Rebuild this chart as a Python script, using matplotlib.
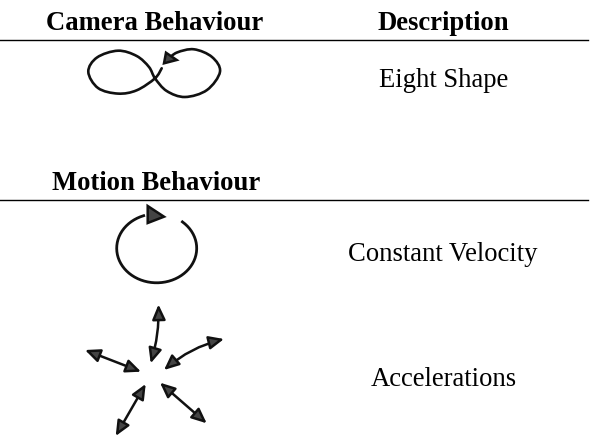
import numpy as np
import matplotlib
matplotlib.use("Agg")
import matplotlib.pyplot as plt
from matplotlib.patches import FancyArrowPatch, Polygon
from matplotlib.path import Path

HEADERS = ["Camera Behaviour", "Description", "Motion Behaviour"]
DESCRIPTIONS = ["Eight Shape", "Constant Velocity", "Accelerations"]

# hand drawn icons, traced in pixels of the reference
EIGHT = [
    (161.7, 68.3), (155, 78.3), (136.7, 90.3), (118, 93.6), (98, 88), (88.3, 71.7),
    (97, 57.5), (118, 50.7), (136.7, 56), (149, 67), (155, 78.3), (166.7, 91),
    (185, 97), (207, 90), (220, 71.7), (212, 57), (194, 49.3), (177, 52.5),
    (168.3, 59),
]
EIGHT_HEAD = [(164, 63.3), (166, 52.7), (176.7, 60)]
CIRCLE_CENTER = (156.7, 248.3)
CIRCLE_RADII = (40, 34.5)
CIRCLE_ANGLES = (-50, 251)
CIRCLE_HEAD = [(147.7, 206), (147.7, 223), (164, 216.7)]
ACCEL_ARROWS = [
    ((150.7, 363.3), (158.5, 304.5), 0.08),
    ((164, 370), (224, 339), -0.12),
    ((141, 371.7), (85, 350), 0.0),
    ((145.7, 384), (115.7, 436), 0.0),
    ((160, 382.7), (206.7, 423.3), 0.0),
]


def smooth(points):
    # catmull-rom through the traced points
    pts = np.array(points, dtype=float)
    pts = np.vstack([pts[0], pts, pts[-1]])
    verts = [pts[1]]
    codes = [Path.MOVETO]
    for i in range(1, len(pts) - 2):
        verts += [pts[i] + (pts[i + 1] - pts[i - 1]) / 6, pts[i + 1] - (pts[i + 2] - pts[i]) / 6, pts[i + 1]]
        codes += [Path.CURVE4] * 3
    return Path(verts, codes)


def draw_head(ax, points):
    ax.add_patch(Polygon(points, closed=True, fc="#444444", ec="#111111", lw=1.8, zorder=3))


def main():
    fig = plt.figure(figsize=(5.95, 4.38), dpi=100)
    ax = fig.add_axes([0, 0, 1, 1])
    ax.set_xlim(0, 595)
    ax.set_ylim(438, 0)
    ax.axis("off")

    serif = ["Liberation Serif", "DejaVu Serif"]
    size = 19.2
    ax.text(155, 30, HEADERS[0], ha="center", va="baseline", fontsize=size, fontweight="bold", family=serif)
    ax.text(443.7, 30, HEADERS[1], ha="center", va="baseline", fontsize=size, fontweight="bold", family=serif)
    ax.text(155.8, 190, HEADERS[2], ha="center", va="baseline", fontsize=size, fontweight="bold", family=serif)
    ax.plot([0, 588], [40.3, 40.3], color="black", lw=1.0)
    ax.plot([0, 588], [200.3, 200.3], color="black", lw=1.0)

    ax.text(443.7, 87.3, DESCRIPTIONS[0], ha="center", va="baseline", fontsize=size, family=serif)
    ax.text(443, 261, DESCRIPTIONS[1], ha="center", va="baseline", fontsize=size, family=serif)
    ax.text(444, 386, DESCRIPTIONS[2], ha="center", va="baseline", fontsize=size, family=serif)

    ax.add_patch(FancyArrowPatch(path=smooth(EIGHT), arrowstyle="-", lw=1.9, color="#111111"))
    draw_head(ax, EIGHT_HEAD)

    # circle goes from the open end round the bottom, then the head
    ang = np.radians(np.linspace(CIRCLE_ANGLES[0], CIRCLE_ANGLES[1], 60))
    ax.plot(
        CIRCLE_CENTER[0] + CIRCLE_RADII[0] * np.cos(ang),
        CIRCLE_CENTER[1] + CIRCLE_RADII[1] * np.sin(ang),
        color="#111111", lw=2.0,
    )
    draw_head(ax, CIRCLE_HEAD)

    for start, end, rad in ACCEL_ARROWS:
        ax.add_patch(FancyArrowPatch(
            start, end,
            connectionstyle=f"arc3,rad={rad}",
            arrowstyle="<|-|>,head_length=9,head_width=4",
            shrinkA=0, shrinkB=0,
            fc="#444444", ec="#111111", lw=1.8,
        ))

    fig.savefig("out.png", dpi=100)


if __name__ == "__main__":
    main()
